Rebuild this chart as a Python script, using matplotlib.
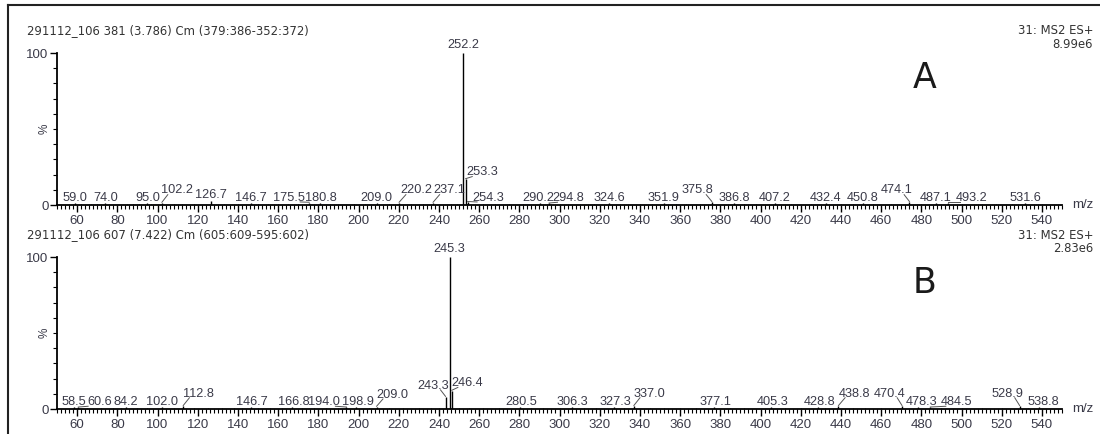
import numpy as np
import matplotlib.pyplot as plt
from matplotlib.ticker import MultipleLocator, FixedLocator

plt.rcParams['font.family'] = ['Liberation Sans', 'DejaVu Sans']

# ---------------- spectrum A (scan 381) ----------------
a_title = '291112_106 381 (3.786) Cm (379:386-352:372)'
a_scale = '8.99e6'
a_mz = [59.0, 74.0, 95.0, 102.2, 126.7, 146.7, 175.5, 180.8, 209.0, 220.2,
        237.1, 252.2, 253.3, 254.3, 290.2, 294.8, 324.6, 351.9, 375.8, 386.8,
        407.2, 432.4, 450.8, 474.1, 487.1, 493.2, 531.6]
a_int = [1.0, 1.0, 1.5, 1.5, 2.5, 1.5, 1.5, 1.5, 1.0, 1.5,
         1.5, 100.0, 17.0, 2.0, 1.0, 1.0, 1.0, 1.0, 2.0, 1.0,
         1.0, 1.0, 1.0, 2.0, 1.0, 1.5, 1.0]
# where the peak labels sit (m/z, % of base peak)
a_lab_x = [59.0, 74.0, 95.0, 109.5, 126.7, 146.7, 165.5, 181.3, 209.0, 228.6,
           245.2, 252.2, 261.5, 264.5, 289.6, 304.5, 324.6, 351.9, 368.8, 386.8,
           407.2, 432.4, 450.8, 467.5, 487.1, 505.0, 531.6]
a_lab_y = [0.6, 0.6, 0.6, 5.6, 2.4, 0.8, 0.8, 0.8, 0.6, 5.6,
           5.6, 101.5, 17.5, 0.8, 0.6, 0.6, 0.6, 0.6, 5.6, 0.6,
           0.6, 0.6, 0.6, 5.6, 0.6, 0.6, 0.6]
a_noise_mz = [62, 67, 70, 85, 88, 91, 97, 108, 112, 118, 133, 140, 150, 155,
              160, 165, 170, 186, 198, 203, 215, 226, 232, 246, 249, 262, 268,
              275, 282, 300, 310, 317, 330, 340, 346, 358, 363, 370, 392, 398,
              415, 425, 440, 446, 456, 465, 480, 500, 510, 517, 525, 540]
a_noise_int = [0.6, 0.5, 0.8, 0.5, 0.6, 0.7, 0.6, 0.5, 0.8, 0.5, 0.6, 0.5, 0.7, 0.5,
               0.6, 0.8, 0.5, 0.6, 0.5, 0.7, 0.6, 0.5, 0.8, 0.6, 0.9, 0.7, 0.8,
               0.6, 0.5, 0.7, 0.6, 0.5, 0.6, 0.5, 0.7, 0.5, 0.6, 0.8, 0.5, 0.6,
               0.5, 0.6, 0.8, 0.5, 0.7, 0.8, 0.5, 0.6, 0.5, 0.6, 0.5, 0.6]

# ---------------- spectrum B (scan 607) ----------------
b_title = '291112_106 607 (7.422) Cm (605:609-595:602)'
b_scale = '2.83e6'
b_mz = [58.5, 60.6, 84.2, 102.0, 112.8, 146.7, 166.8, 194.0, 198.9, 209.0,
        243.3, 245.3, 246.4, 280.5, 306.3, 327.3, 337.0, 377.1, 405.3, 428.8,
        438.8, 470.4, 478.3, 484.5, 528.9, 538.8]
b_int = [1.0, 1.0, 1.5, 1.0, 2.0, 1.5, 1.0, 1.0, 1.0, 1.5,
         8.0, 100.0, 12.0, 1.0, 1.0, 1.0, 2.0, 1.0, 1.0, 1.0,
         2.0, 2.0, 1.0, 1.0, 2.0, 1.0]
b_lab_x = [58.5, 71.0, 84.4, 102.2, 120.5, 146.9, 167.6, 183.0, 199.6, 216.9,
           237.0, 245.3, 254.0, 281.0, 306.3, 327.7, 344.6, 377.4, 406.0, 429.5,
           447.0, 464.4, 480.0, 497.7, 522.9, 540.5]
b_lab_y = [0.6, 0.6, 0.8, 0.6, 6.2, 0.8, 0.6, 0.6, 0.6, 5.4,
           11.4, 101.5, 13.0, 0.6, 0.6, 0.6, 6.2, 0.6, 0.6, 0.6,
           6.2, 6.2, 0.6, 0.6, 6.2, 0.6]
b_noise_mz = [65, 72, 78, 82, 90, 95, 108, 118, 125, 132, 138, 142, 150, 156,
              162, 172, 178, 184, 190, 205, 215, 222, 230, 236, 240, 250, 255,
              262, 270, 286, 292, 300, 312, 318, 332, 345, 352, 360, 368, 385,
              392, 412, 420, 432, 446, 452, 460, 490, 500, 510, 520, 533]
b_noise_int = [0.6, 0.5, 0.7, 0.8, 0.5, 0.6, 0.5, 0.7, 0.6, 0.5, 0.7, 0.6, 0.8, 0.5,
               0.6, 0.5, 0.7, 0.6, 0.5, 0.6, 0.5, 0.7, 0.6, 0.5, 0.8, 0.9, 0.7,
               0.6, 0.5, 0.6, 0.5, 0.7, 0.6, 0.5, 0.6, 0.5, 0.7, 0.5, 0.6, 0.5,
               0.6, 0.5, 0.6, 0.5, 0.7, 0.6, 0.5, 0.6, 0.5, 0.6, 0.5, 0.7]

LABEL_COL = '#3a3a48'
HEAD_COL = '#333333'


def draw_spectrum(ax, mz, inten, lab_x, lab_y, noise_mz, noise_int):
    ax.vlines(noise_mz, 0, noise_int, color='#444444', lw=0.8)
    ax.vlines(mz, 0, inten, color='black', lw=1.0)
    for m, h, lx, ly in zip(mz, inten, lab_x, lab_y):
        ax.text(lx, ly, f'{m:.1f}', ha='center', va='bottom', fontsize=9.2,
                color=LABEL_COL, clip_on=False)
        d = lx - m
        if abs(d) > 3:
            # leader line from peak top to the foot of the label
            end = lx - np.sign(d) * min(5.5, abs(d) * 0.6)
            ax.plot([m, end], [h + 0.3, ly + 1.2], color='#555555', lw=0.7,
                    clip_on=False)

    ax.set_xlim(50, 550)
    ax.set_ylim(0, 100)
    ax.spines['top'].set_visible(False)
    ax.spines['right'].set_visible(False)
    ax.spines['left'].set_linewidth(1.3)
    ax.spines['bottom'].set_linewidth(1.3)

    ax.xaxis.set_minor_locator(MultipleLocator(2))
    ax.set_xticks(np.arange(60, 541, 20))
    ax.yaxis.set_major_locator(FixedLocator([0, 100]))
    ax.yaxis.set_minor_locator(MultipleLocator(10))
    ax.tick_params(axis='x', which='major', length=5, width=1, pad=2,
                   labelsize=9.5, colors='black', labelcolor=LABEL_COL)
    ax.tick_params(axis='x', which='minor', length=3, width=0.8)
    ax.tick_params(axis='y', which='major', length=5, width=1, pad=1,
                   labelsize=9.5, labelcolor=LABEL_COL)
    ax.tick_params(axis='y', which='minor', length=3, width=0.8)
    ax.text(555, 0, 'm/z', ha='left', va='center', fontsize=9.5,
            color=LABEL_COL, clip_on=False)
    ax.text(-12 / 1005, 50, '%', rotation=90, ha='center', va='center',
            fontsize=8.5, color=LABEL_COL, transform=ax.get_yaxis_transform(),
            clip_on=False)


fig = plt.figure(figsize=(11, 4.34), dpi=100)
W, H = 1100.0, 434.0

# outer frame
fig.add_artist(plt.Line2D([8 / W, 1.0], [1 - 5 / H, 1 - 5 / H], color='#222222', lw=1.5))
fig.add_artist(plt.Line2D([8 / W, 8 / W], [0, 1 - 5 / H], color='#222222', lw=1.5))

left = 57 / W
width = (1062 - 57) / W
ax_a = fig.add_axes([left, 1 - 205 / H, width, 152 / H])
ax_b = fig.add_axes([left, 1 - 409 / H, width, 152 / H])

draw_spectrum(ax_a, a_mz, a_int, a_lab_x, a_lab_y, a_noise_mz, a_noise_int)
draw_spectrum(ax_b, b_mz, b_int, b_lab_x, b_lab_y, b_noise_mz, b_noise_int)

# headers
for title, scale, letter, ytop, yl in [(a_title, a_scale, 'A', 31, 78),
                                        (b_title, b_scale, 'B', 235, 283)]:
    fig.text(27 / W, 1 - ytop / H, title, ha='left', va='center', fontsize=8.4,
             family='DejaVu Sans', color=HEAD_COL)
    fig.text(1093 / W, 1 - ytop / H, '31: MS2 ES+', ha='right', va='center',
             fontsize=8.4, family='DejaVu Sans', color=HEAD_COL)
    fig.text(1093 / W, 1 - (ytop + 13) / H, scale, ha='right', va='center',
             fontsize=8.4, family='DejaVu Sans', color=HEAD_COL)
    fig.text(925 / W, 1 - yl / H, letter, ha='center', va='center',
             fontsize=25, family='DejaVu Sans', color='#1a1a1a')

fig.savefig('out.png', dpi=100)
